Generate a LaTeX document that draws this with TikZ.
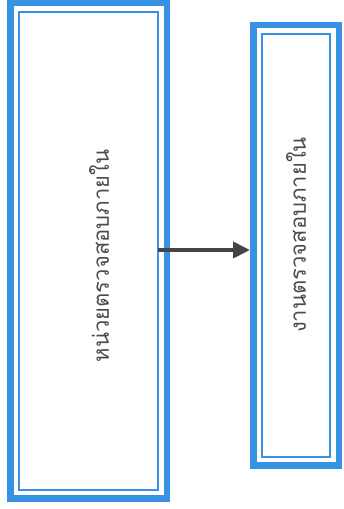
\documentclass[tikz,border=0pt]{standalone}
\usepackage{fontspec}
\newfontfamily\thaifont[Script=Thai]{Loma}
\usetikzlibrary{arrows.meta,calc}
\definecolor{boxblue}{RGB}{56,146,228}
\definecolor{arrowgray}{RGB}{68,68,68}
\tikzset{
  x=1pt, y=1pt,
  panel/.style={draw=boxblue, line width=6.5pt, fill=white, inner sep=0pt, outer sep=0pt},
  panelinner/.style={draw=boxblue, line width=1.8pt},
  vlabel/.style={font=\thaifont\fontsize{22}{26}\selectfont, text=black!70, rotate=90, inner sep=0pt},
  link/.style={draw=arrowgray, line width=4pt, -{Triangle[length=17pt,width=16pt]}}
}
\begin{document}
\begin{tikzpicture}
  \useasboundingbox (0,0) rectangle (344,509);
  % two tall panels with a heavy outer rule and a thin inner rule
  \node[panel, minimum width=156.5pt, minimum height=495.5pt] (L) at (88.5,258) {};
  \draw[panelinner] ($(L.south west)+(8.75,8.75)$) rectangle ($(L.north east)+(-8.75,-8.75)$);
  \node[panel, minimum width=85.5pt, minimum height=440.5pt] (R) at (296,263.5) {};
  \draw[panelinner] ($(R.south west)+(8.75,8.75)$) rectangle ($(R.north east)+(-8.75,-8.75)$);
  % vertical captions
  \node[vlabel] (Lt) at (99,253) {หน่วยตรวจสอบภายใน};
  \node[vlabel] (Rt) at (296,274) {งานตรวจสอบภายใน};
  % connector
  \coordinate (a0) at ($(L.east)+(-9,1)$);
  \coordinate (a1) at (R.west |- a0);
  \draw[link, shorten >=3.25pt] (a0) -- (a1);
\end{tikzpicture}
\end{document}
